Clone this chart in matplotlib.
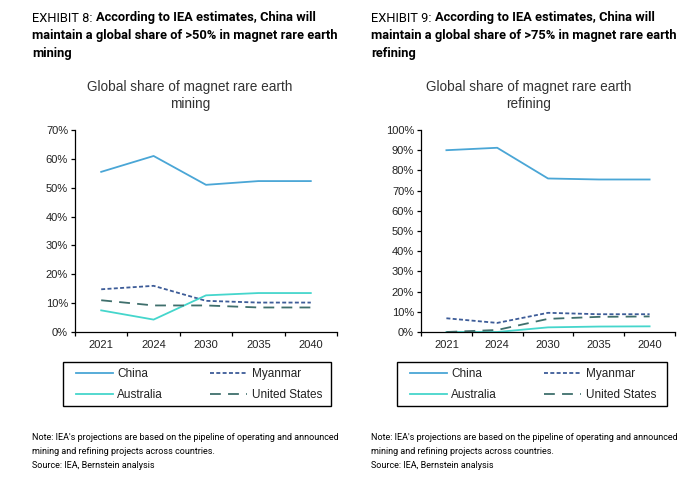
import matplotlib
matplotlib.use("Agg")
import matplotlib.pyplot as plt
from matplotlib.lines import Line2D
from matplotlib.patches import Rectangle

years = ["2021", "2024", "2030", "2035", "2040"]

mining_china = [55.5, 61.0, 51.0, 52.3, 52.3]
mining_myanmar = [14.8, 16.0, 10.8, 10.2, 10.2]
mining_australia = [7.5, 4.3, 12.7, 13.5, 13.5]
mining_us = [11.0, 9.2, 9.2, 8.5, 8.5]

refining_china = [90.0, 91.2, 76.0, 75.5, 75.5]
refining_myanmar = [6.8, 4.5, 9.5, 8.8, 8.8]
refining_australia = [0.0, 0.0, 2.3, 2.7, 2.8]
refining_us = [0.0, 1.0, 6.5, 7.5, 7.7]

series_names = ["China", "Myanmar", "Australia", "United States"]

C_CHINA = "#4aa6d6"
C_MYAN = "#3d5c98"
C_AUS = "#45d6cc"
C_US = "#3f6f6c"
TXT = "#222222"

W, H = 688, 488
fig = plt.figure(figsize=(W / 100, H / 100), dpi=100)


def fx(px):
    return px / W


def fy(py):
    return 1 - py / H


def header(x, label, bold_lines):
    t = fig.text(fx(x), fy(18), label, fontsize=9.3, family="Roboto",
                 color="black", va="center", ha="left")
    fig.canvas.draw()
    bb = t.get_window_extent()
    fig.text(bb.x1 / W, fy(18), bold_lines[0], fontsize=9.3, family="Roboto",
             weight="bold", va="center", ha="left")
    for i, line in enumerate(bold_lines[1:]):
        fig.text(fx(x), fy(36 + 17 * i), line, fontsize=9.3, family="Roboto",
                 weight="bold", va="center", ha="left")


def notes(x):
    lines = ["Note: IEA's projections are based on the pipeline of operating and announced",
             "mining and refining projects across countries.",
             "Source: IEA, Bernstein analysis"]
    for i, line in enumerate(lines):
        fig.text(fx(x), fy(437 + 14 * i), line, fontsize=6.5, family="Roboto",
                 color="black", va="center", ha="left")


def panel(x0, x1, data, ymax, step, title2, title_cx, box_x0, box_x1):
    ax = fig.add_axes([fx(x0), fy(332), fx(x1 - x0), (332 - 130) / H])
    china, myan, aus, us = data
    xs = range(len(years))
    ax.plot(xs, china, color=C_CHINA, lw=1.3)
    ax.plot(xs, myan, color=C_MYAN, lw=1.3, dashes=(2.2, 1.3))
    ax.plot(xs, aus, color=C_AUS, lw=1.3)
    ax.plot(xs, us, color=C_US, lw=1.3, dashes=(6, 4))
    ax.set_xlim(-0.5, len(years) - 0.5)
    ax.set_ylim(0, ymax)
    ax.set_yticks(range(0, ymax + 1, step))
    ax.set_yticklabels([f"{v}%" for v in range(0, ymax + 1, step)])
    ax.set_xticks(list(xs))
    ax.set_xticklabels(years)
    ax.set_xticks([i - 0.5 for i in range(len(years) + 1)], minor=True)
    ax.tick_params(axis="x", which="major", length=0, pad=6)
    ax.tick_params(axis="x", which="minor", length=3, width=0.9)
    ax.tick_params(axis="y", length=3, width=0.9, pad=2)
    for lab in ax.get_xticklabels() + ax.get_yticklabels():
        lab.set_fontsize(8)
        lab.set_family("Liberation Sans")
        lab.set_color(TXT)
    for s in ["top", "right"]:
        ax.spines[s].set_visible(False)
    for s in ["left", "bottom"]:
        ax.spines[s].set_linewidth(0.9)
        ax.spines[s].set_color("black")
    cx = fx(title_cx)
    fig.text(cx, fy(87), "Global share of magnet rare earth", fontsize=9.8,
             family="Liberation Sans", color="#333333", ha="center", va="center")
    fig.text(cx, fy(104), title2, fontsize=9.8,
             family="Liberation Sans", color="#333333", ha="center", va="center")

    # legend frame drawn separately so the entries can sit where the reference has them
    fig.patches.append(Rectangle((fx(box_x0), fy(406)), fx(box_x1 - box_x0), 44 / H,
                                 transform=fig.transFigure, fill=False,
                                 edgecolor="black", linewidth=1.0))
    handles = [
        Line2D([], [], color=C_CHINA, lw=1.3),
        Line2D([], [], color=C_AUS, lw=1.3),
        Line2D([], [], color=C_MYAN, lw=1.3, dashes=(2.2, 1.3)),
        Line2D([], [], color=C_US, lw=1.3, dashes=(6, 4)),
    ]
    labels = [series_names[0], series_names[2], series_names[1], series_names[3]]
    leg = fig.legend(handles, labels, ncol=2, loc="upper left",
                     bbox_to_anchor=(fx(box_x0 + 13), fy(368)),
                     frameon=False, handlelength=3.1, handletextpad=0.4,
                     columnspacing=4.0, labelspacing=0.75, borderaxespad=0,
                     borderpad=0, prop={"family": "Liberation Sans", "size": 8.5})
    for t in leg.get_texts():
        t.set_color(TXT)
    return ax


panel(75, 337, [mining_china, mining_myanmar, mining_australia, mining_us],
      70, 10, "mining", 190, 63, 331)
panel(421, 675, [refining_china, refining_myanmar, refining_australia, refining_us],
      100, 10, "refining", 529, 397, 667)

header(32, "EXHIBIT 8: ", ["According to IEA estimates, China will",
                           "maintain a global share of >50% in magnet rare earth",
                           "mining"])
header(371, "EXHIBIT 9: ", ["According to IEA estimates, China will",
                            "maintain a global share of >75% in magnet rare earth",
                            "refining"])
notes(32)
notes(371)

fig.savefig("out.png", dpi=100)
